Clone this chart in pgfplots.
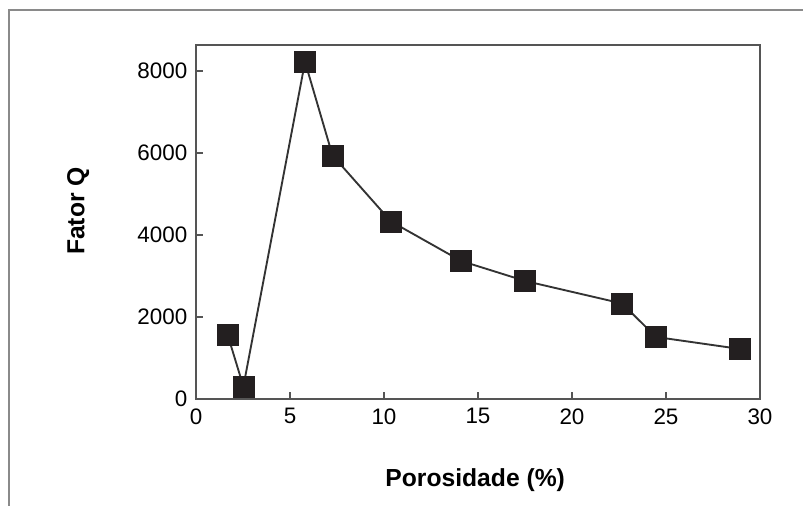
\documentclass[border=0pt]{standalone}
\usepackage{fontspec}
\setmainfont{Liberation Sans}
\usepackage{pgfplots}
\pgfplotsset{compat=1.18}
\definecolor{mk}{HTML}{231F20}
\definecolor{ln}{HTML}{333333}
\definecolor{axc}{HTML}{555555}
\definecolor{frame}{HTML}{8A8A8A}
\begin{document}
\begin{tikzpicture}[x=0.75pt,y=-0.75pt]
\useasboundingbox (0,0) rectangle (803,506);
\draw[color=frame, line width=1.5pt] (9,506) -- (9,10) -- (803,10);
\begin{axis}[
  at={(147pt,-33.75pt)}, anchor=north west,
  scale only axis, width=423pt, height=265.5pt,
  xmin=0, xmax=30, ymin=0, ymax=8630,
  xtick={0,5,...,30}, ytick={0,2000,4000,6000,8000},
  tick align=inside, xtick pos=lower, ytick pos=left,
  major tick length=5pt,
  axis line style={color=axc, line width=1.4pt},
  tick style={color=axc, line width=1.2pt},
  /pgf/number format/assume math mode=true,
  /pgf/number format/1000 sep={},
  tick label style={font=\fontsize{16.8}{19}\selectfont},
  yticklabel style={xshift=-3pt},
  xticklabel style={yshift=-3.5pt},
  xlabel={Porosidade (\%)},
  ylabel={Fator Q},
  label style={font=\fontsize{18.5}{22}\selectfont\bfseries},
  xlabel style={at={(axis description cs:0.495,-0.229)}, anchor=center},
  ylabel style={at={(axis description cs:-0.209,0.531)}, anchor=center},
  clip=false,
]
\addplot[color=ln, line width=1.4pt, mark=square*, mark size=7.9pt,
  mark options={fill=mk, draw=mk, line width=0.2pt, solid}] coordinates {
  (1.68,1570) (2.52,305) (5.80,8220) (7.26,5939) (10.37,4329)
  (14.10,3366) (17.50,2878) (22.66,2329) (24.47,1512) (28.94,1220)
};
\end{axis}
\end{tikzpicture}
\end{document}
